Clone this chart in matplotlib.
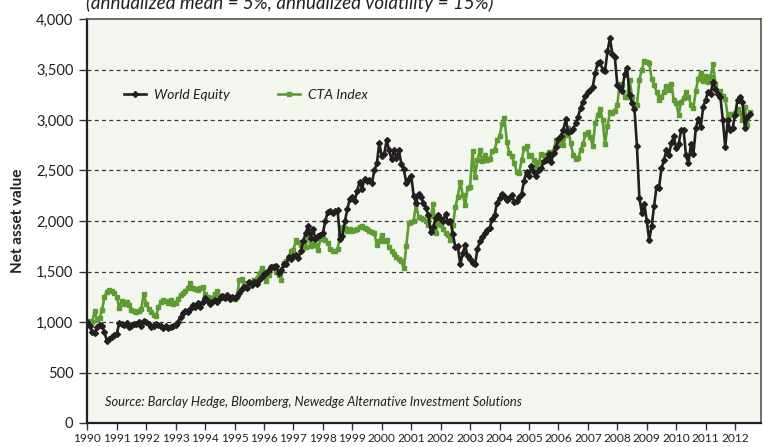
import numpy as np
import pandas as pd
import matplotlib
matplotlib.use("Agg")
import matplotlib.pyplot as plt
from matplotlib.ticker import FuncFormatter
from matplotlib import font_manager

# ---------------- data (monthly net asset values) ----------------
dates = pd.date_range("1990-01-01", "2012-07-01", freq="MS")

world_equity = [
    1000, 960, 905, 890, 950, 975, 960, 900, 810, 830, 855, 870,        # 1990
    880, 990, 985, 975, 990, 950, 965, 980, 985, 1000, 960, 1010,       # 1991
    1000, 980, 955, 965, 985, 970, 960, 945, 960, 940, 950, 965,        # 1992
    975, 1000, 1050, 1090, 1110, 1100, 1125, 1170, 1150, 1185, 1150, 1200,  # 1993
    1240, 1210, 1180, 1200, 1215, 1200, 1235, 1260, 1240, 1270, 1230, 1245,  # 1994
    1235, 1255, 1290, 1330, 1345, 1340, 1395, 1370, 1395, 1380, 1420, 1450,  # 1995
    1480, 1490, 1510, 1545, 1540, 1550, 1490, 1510, 1570, 1575, 1640, 1625,  # 1996
    1650, 1660, 1630, 1700, 1800, 1880, 1950, 1830, 1920, 1820, 1850, 1860,  # 1997
    1880, 2000, 2090, 2100, 2080, 2100, 2110, 1820, 1850, 2000, 2120, 2220,  # 1998
    2240, 2200, 2300, 2390, 2320, 2420, 2400, 2410, 2380, 2500, 2570, 2770,  # 1999
    2640, 2660, 2800, 2700, 2610, 2700, 2620, 2700, 2560, 2510, 2380, 2420,  # 2000
    2450, 2250, 2180, 2270, 2240, 2180, 2130, 2060, 1890, 1940, 2030, 2060,  # 2001
    2020, 2000, 2070, 1990, 2000, 1870, 1740, 1750, 1570, 1680, 1760, 1650,  # 2002
    1620, 1580, 1570, 1720, 1800, 1840, 1880, 1910, 1930, 2020, 2060, 2180,  # 2003
    2230, 2270, 2250, 2210, 2230, 2260, 2190, 2200, 2240, 2270, 2400, 2490,  # 2004
    2450, 2540, 2490, 2450, 2500, 2520, 2590, 2600, 2660, 2580, 2670, 2730,  # 2005
    2810, 2840, 2900, 3010, 2880, 2890, 2910, 2970, 3030, 3120, 3180, 3240,  # 2006
    3280, 3300, 3330, 3470, 3560, 3570, 3500, 3490, 3680, 3810, 3650, 3620,  # 2007
    3350, 3320, 3290, 3460, 3510, 3250, 3170, 3110, 2740, 2230, 2080, 2170,  # 2008
    2000, 1810, 1950, 2150, 2340, 2330, 2520, 2600, 2700, 2650, 2770, 2840,  # 2009
    2720, 2760, 2900, 2900, 2650, 2570, 2760, 2660, 2920, 3010, 2930, 3130,  # 2010
    3200, 3280, 3260, 3380, 3310, 3260, 3230, 3000, 2730, 3000, 2900, 2920,  # 2011
    3050, 3200, 3230, 3180, 2920, 3030, 3060,                                # 2012
]

cta_index = [
    1000, 1010, 1000, 1110, 1020, 1040, 1120, 1250, 1300, 1320, 1310, 1290,  # 1990
    1250, 1140, 1210, 1180, 1200, 1170, 1120, 1110, 1100, 1110, 1130, 1280,  # 1991
    1180, 1130, 1100, 1070, 1055, 1150, 1200, 1220, 1210, 1190, 1220, 1180,  # 1992
    1190, 1230, 1270, 1290, 1310, 1340, 1390, 1340, 1330, 1320, 1340, 1350,  # 1993
    1280, 1250, 1230, 1240, 1280, 1310, 1260, 1240, 1260, 1250, 1240, 1245,  # 1994
    1230, 1250, 1420, 1430, 1380, 1390, 1390, 1400, 1420, 1430, 1480, 1530,  # 1995
    1500, 1410, 1470, 1545, 1550, 1500, 1470, 1420, 1580, 1600, 1640, 1700,  # 1996
    1710, 1810, 1790, 1760, 1730, 1740, 1890, 1750, 1770, 1760, 1710, 1820,  # 1997
    1830, 1810, 1780, 1720, 1700, 1700, 1720, 1860, 1940, 1930, 1900, 1920,  # 1998
    1900, 1910, 1920, 1940, 1950, 1930, 1920, 1900, 1890, 1880, 1760, 1800,  # 1999
    1860, 1800, 1810, 1740, 1700, 1670, 1640, 1620, 1600, 1530, 1750, 1980,  # 2000
    1990, 2000, 2170, 2040, 2030, 2020, 2000, 1960, 2050, 2170, 1880, 1980,  # 2001
    1960, 1920, 1880, 1860, 1810, 1960, 2140, 2240, 2390, 2260, 2160, 2330,  # 2002
    2340, 2690, 2440, 2600, 2700, 2590, 2650, 2600, 2610, 2690, 2700, 2800,  # 2003
    2840, 2960, 3020, 2780, 2670, 2640, 2570, 2490, 2480, 2600, 2720, 2740,  # 2004
    2640, 2650, 2600, 2540, 2580, 2660, 2650, 2650, 2680, 2650, 2690, 2800,  # 2005
    2750, 2800, 2750, 2850, 2920, 2770, 2650, 2610, 2620, 2700, 2760, 2860,  # 2006
    2880, 2830, 2740, 2970, 3050, 3110, 3000, 2760, 2940, 3080, 3070, 3090,  # 2007
    3150, 3360, 3350, 3230, 3230, 3400, 3230, 3150, 3150, 3400, 3500, 3580,  # 2008
    3570, 3560, 3410, 3350, 3280, 3200, 3230, 3280, 3340, 3300, 3360, 3200,  # 2009
    3170, 3050, 3180, 3220, 3280, 3230, 3150, 3120, 3290, 3410, 3470, 3390,  # 2010
    3440, 3380, 3430, 3550, 3360, 3280, 3290, 3240, 3210, 3040, 3060, 3050,  # 2011
    3070, 3110, 3070, 3000, 3130, 2950, 3080,                                # 2012
]

year_ticks = list(range(1990, 2013))
value_ticks = [0, 500, 1000, 1500, 2000, 2500, 3000, 3500, 4000]

title_text = "(annualized mean = 5%, annualized volatility = 15%)"
source_text = "Source: Barclay Hedge, Bloomberg, Newedge Alternative Investment Solutions"

# ---------------- styling ----------------
plt.rcParams["font.family"] = ["Lato", "DejaVu Sans"]

installed = {f.name for f in font_manager.fontManager.ttflist}
narrow = "Liberation Sans Narrow" if "Liberation Sans Narrow" in installed else "Lato"

BLACK = "#231f20"
GREEN = "#5c9c30"

fig = plt.figure(figsize=(7.65, 4.47), dpi=100)
ax = fig.add_axes([87.3 / 765, 1 - 423 / 447, (761 - 87.3) / 765, (423 - 19) / 447])
ax.set_facecolor("#f3f6ef")

t = np.asarray(dates.year + (dates.month - 1) / 12.0, dtype=float)

ax.plot(t, cta_index, color=GREEN, lw=1.9, marker="s", ms=3.3,
        mec=GREEN, mfc=GREEN, label="CTA Index", zorder=3)
ax.plot(t, world_equity, color=BLACK, lw=1.9, marker="D", ms=3.0,
        mec=BLACK, mfc=BLACK, label="World Equity", zorder=4)

ax.set_xlim(1990, 2012.88)
ax.set_ylim(0, 4000)
ax.set_xticks(year_ticks)
ax.set_xticklabels([str(y) for y in year_ticks], family=narrow,
                   fontsize=10.5 if narrow != "Lato" else 8.6)
ax.set_yticks(value_ticks)
ax.yaxis.set_major_formatter(FuncFormatter(lambda v, p: f"{int(v):,}"))

for v in value_ticks[1:-1]:
    ax.axhline(v, color="#3a3a3a", lw=0.9, ls=(0, (3.2, 2.6)), zorder=1)

ax.tick_params(axis="x", direction="out", length=5, width=1.0, color="#333333",
               pad=2.5, labelcolor="#231f20")
ax.tick_params(axis="y", direction="out", length=6, width=1.0, color="#333333",
               labelsize=10.5, pad=4, labelcolor="#231f20")

for side in ["left", "bottom"]:
    ax.spines[side].set_color("#231f20")
    ax.spines[side].set_linewidth(1.6)
for side in ["top", "right"]:
    ax.spines[side].set_color("#555555")
    ax.spines[side].set_linewidth(1.2)

ax.set_ylabel("Net asset value", fontsize=11, fontweight="bold", color="#231f20", labelpad=8)

# legend (World Equity first)
handles, labels = ax.get_legend_handles_labels()
order = [1, 0]
leg = ax.legend([handles[i] for i in order], [labels[i] for i in order],
                loc="center left", bbox_to_anchor=(0.0545, 0.812), ncol=2,
                frameon=False, handlelength=1.55, handletextpad=0.6,
                columnspacing=3.5, borderpad=0, borderaxespad=0,
                prop={"style": "italic", "size": 10})
for txt in leg.get_texts():
    txt.set_color("#231f20")

ax.text((105 - 87.3) / (761 - 87.3), (423 - 401.7) / 404, source_text,
        transform=ax.transAxes, fontsize=9.3, style="italic",
        color="#231f20", va="center", ha="left")

fig.text(86 / 765, 1 - 9.5 / 447, title_text, fontsize=13.5, style="italic",
         color="#231f20", va="baseline", ha="left")

fig.savefig("out.png", dpi=100, facecolor="white")
